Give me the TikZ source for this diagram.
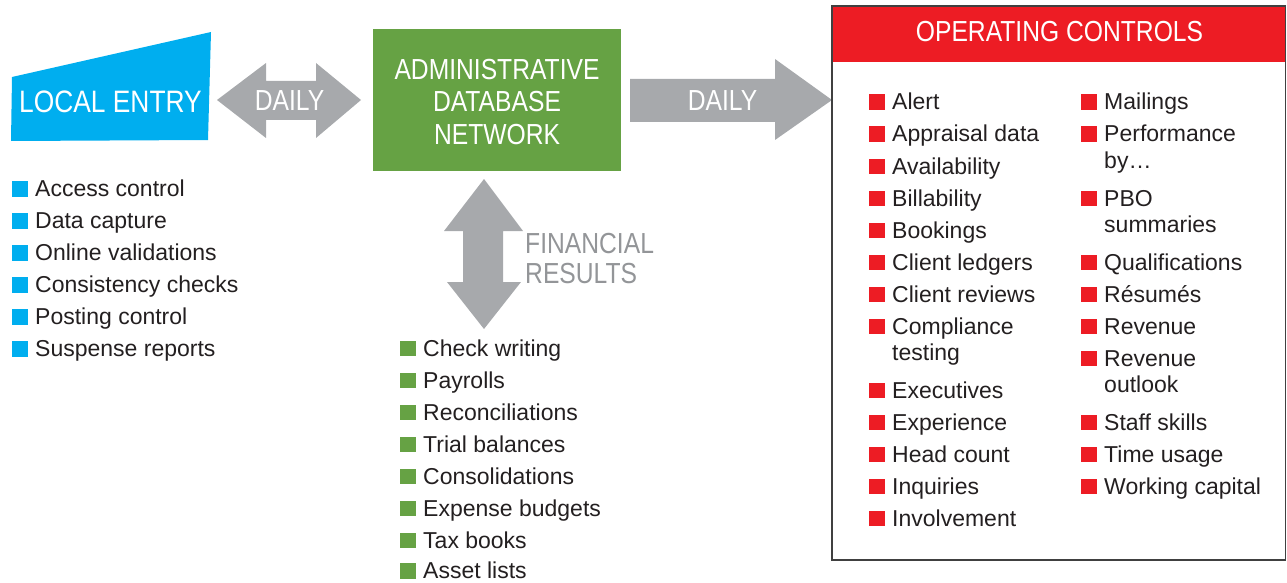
\documentclass[tikz,border=0pt]{standalone}
\usepackage{fontspec}
\setmainfont{Liberation Sans}
\newfontfamily\headfont[FakeStretch=0.85]{Liberation Sans}
\usetikzlibrary{calc}

\definecolor{entryblue}{HTML}{00AEEF}
\definecolor{netgreen}{HTML}{66A244}
\definecolor{arrowgray}{HTML}{A7A9AC}
\definecolor{labelgray}{HTML}{939598}
\definecolor{opsred}{HTML}{ED1C24}
\definecolor{framegray}{HTML}{404040}
\definecolor{ink}{HTML}{231F20}

% bullet square placed to the left of the item text
\newcommand{\bsq}[1]{\llap{\textcolor{#1}{\rule{15.5pt}{15.5pt}}\hspace{7.5pt}}}

\tikzset{
  head/.style={inner sep=0pt, anchor=base, text=white, font=\headfont\fontsize{29}{32}\selectfont},
  itembase/.style={inner sep=0pt, anchor=base west, text=ink, font=\fontsize{23}{26}\selectfont},
  bitem/.style={itembase, execute at begin node=\bsq{entryblue}},
  gitem/.style={itembase, execute at begin node=\bsq{netgreen}},
  ritem/.style={itembase, execute at begin node=\bsq{opsred}},
  cont/.style={itembase},
  blockarrow/.style={fill=arrowgray, draw=none},
}

\begin{document}
\begin{tikzpicture}[x=1pt,y=-1pt]
\useasboundingbox (0,0) rectangle (1287,583);

% ---- local entry panel ----
\fill[entryblue] (12,77) -- (211,32) -- (208,140) -- (11,141) -- cycle;
\node[head, font=\headfont\fontsize{31}{32}\selectfont] (entry) at (110.5,113) {LOCAL ENTRY};

% ---- daily two-way arrow ----
\fill[blockarrow] (217,100) -- (266,63) -- (266,81) -- (316,81) -- (316,63) -- (361,100)
  -- (316,138) -- (316,120) -- (266,120) -- (266,138) -- cycle;
\node[head] (daily1) at (289.5,111) {DAILY};

% ---- administrative database network ----
\node[fill=netgreen, minimum width=248pt, minimum height=142pt, inner sep=0pt] (net) at (497,100) {};
\node[head] (net1) at (497,80) {ADMINISTRATIVE};
\node[head] (net2) at (497,112) {DATABASE};
\node[head] (net3) at (497,144) {NETWORK};

% ---- daily arrow to operating controls ----
\fill[blockarrow] (630,79) -- (775,79) -- (775,59) -- (832,100) -- (775,140) -- (775,122)
  -- (630,122) -- cycle;
\node[head] (daily2) at (722.5,111) {DAILY};

% ---- financial results two-way arrow ----
\fill[blockarrow] (484,179) -- (523,231) -- (503,231) -- (503,282) -- (521,282) -- (484,329)
  -- (447,282) -- (463,282) -- (463,231) -- (444,231) -- cycle;
\node[head, anchor=base west, text=labelgray] (fin1) at (525,253) {FINANCIAL};
\node[head, anchor=base west, text=labelgray] (fin2) at (525,283) {RESULTS};

% ---- operating controls panel ----
\node[minimum width=453.5pt, minimum height=554pt, inner sep=0pt] (ops) at (1058.75,283) {};
\fill[opsred] (ops.north west) rectangle ($(ops.north east)+(0,56)$);
\draw[framegray, line width=1.5pt] (ops.north west) rectangle (ops.south east);
\node[head] (opshead) at (1059.5,42) {OPERATING CONTROLS};

% ---- local entry items ----
\node[bitem] (l1) at (35,196.5) {Access control};
\node[bitem] (l2) at (35,228.5) {Data capture};
\node[bitem] (l3) at (35,260.5) {Online validations};
\node[bitem] (l4) at (35,292.5) {Consistency checks};
\node[bitem] (l5) at (35,324.5) {Posting control};
\node[bitem] (l6) at (35,356.5) {Suspense reports};

% ---- financial result items ----
\node[gitem] (f1) at (423,356) {Check writing};
\node[gitem] (f2) at (423,388) {Payrolls};
\node[gitem] (f3) at (423,420) {Reconciliations};
\node[gitem] (f4) at (423,452) {Trial balances};
\node[gitem] (f5) at (423,484) {Consolidations};
\node[gitem] (f6) at (423,516) {Expense budgets};
\node[gitem] (f7) at (423,548) {Tax books};
\node[gitem] (f8) at (423,578.5) {Asset lists};

% ---- operating control items, first column ----
\node[ritem] (a1) at (892,110) {Alert};
\node[ritem] (a2) at (892,142) {Appraisal data};
\node[ritem] (a3) at (892,174) {Availability};
\node[ritem] (a4) at (892,206) {Billability};
\node[ritem] (a5) at (892,238) {Bookings};
\node[ritem] (a6) at (892,270) {Client ledgers};
\node[ritem] (a7) at (892,302) {Client reviews};
\node[ritem] (a8) at (892,334) {Compliance};
\node[cont]  (a8b) at (892,360) {testing};
\node[ritem] (a9) at (892,398) {Executives};
\node[ritem] (a10) at (892,430) {Experience};
\node[ritem] (a11) at (892,462) {Head count};
\node[ritem] (a12) at (892,494) {Inquiries};
\node[ritem] (a13) at (892,526) {Involvement};

% ---- operating control items, second column ----
\node[ritem] (b1) at (1104,110) {Mailings};
\node[ritem] (b2) at (1104,142) {Performance};
\node[cont]  (b2b) at (1104,168) {by…};
\node[ritem] (b3) at (1104,206) {PBO};
\node[cont]  (b3b) at (1104,232) {summaries};
\node[ritem] (b4) at (1104,270) {Qualifications};
\node[ritem] (b5) at (1104,302) {Résumés};
\node[ritem] (b6) at (1104,334) {Revenue};
\node[ritem] (b7) at (1104,366) {Revenue};
\node[cont]  (b7b) at (1104,392) {outlook};
\node[ritem] (b8) at (1104,430) {Staff skills};
\node[ritem] (b9) at (1104,462) {Time usage};
\node[ritem] (b10) at (1104,494) {Working capital};
\end{tikzpicture}
\end{document}
